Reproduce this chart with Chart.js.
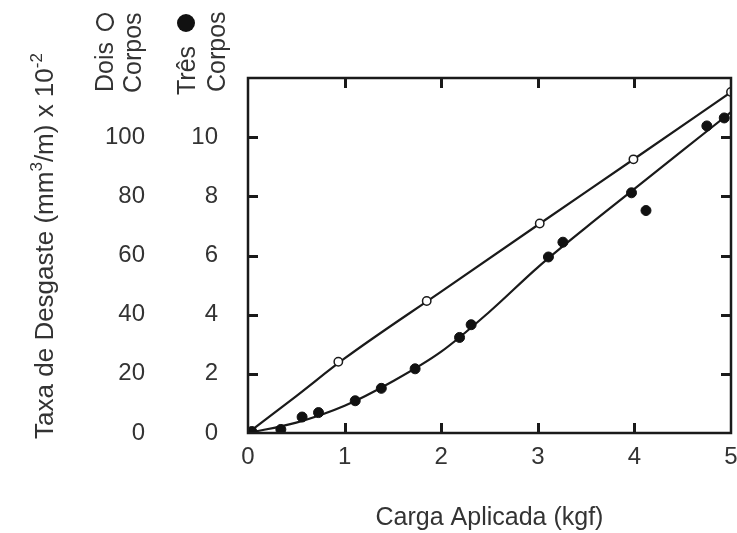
<!DOCTYPE html>
<html><head><meta charset="utf-8">
<script src="https://cdn.jsdelivr.net/npm/chart.js@4.4.1/dist/chart.umd.min.js"></script>
<style>html,body{margin:0;padding:0;background:#fff;}</style>
</head><body>
<canvas id="c" width="737" height="533"></canvas>
<script>
// ---- data ----
const xTickLabels = ['0', '1', '2', '3', '4', '5'];
const doisTickLabels = ['0', '20', '40', '60', '80', '100'];
const tresTickLabels = ['0', '2', '4', '6', '8', '10'];

// Dois Corpos (open circles, left outer axis 0-100)
const doisX = [0.935, 1.85, 3.02, 3.99, 5.0];
const doisY = [24.1, 44.6, 70.8, 92.5, 115.3];
// Três Corpos (filled circles, inner axis 0-10)
const tresX = [0.04, 0.34, 0.56, 0.73, 1.11, 1.38, 1.73, 2.19, 2.31, 3.11, 3.26, 3.97, 4.12, 4.75, 4.93];
const tresY = [0.05, 0.12, 0.54, 0.69, 1.09, 1.51, 2.17, 3.23, 3.66, 5.95, 6.45, 8.12, 7.52, 10.38, 10.65];
// fitted curves
const doisFitX = [0, 0.5, 1, 2, 3, 4, 5];
const doisFitY = [0, 12.5, 25.2, 47.8, 70.3, 92.7, 115.2];
const tresFitX = [0, 0.5, 1, 1.5, 2, 2.5, 3, 3.5, 4, 4.5, 5];
const tresFitY = [0, 0.35, 0.92, 1.75, 2.75, 4.1, 5.6, 6.95, 8.25, 9.55, 10.85];
const xInnerTicks = [1, 2, 3, 4];
const yInnerTicks = [2, 4, 6, 8, 10];

const FONT = 'Liberation Sans, Arial, sans-serif';
const TXT = '#333';
const INK = '#1a1a1a';
const pts = (xs, ys) => xs.map((x, i) => ({x, y: ys[i]}));

function drawTicks(chart) {
  const ctx = chart.ctx;
  const a = chart.chartArea;
  const sx = chart.scales.x, sy = chart.scales.y;
  const L = 10, W = 3;
  ctx.save();
  ctx.fillStyle = INK;
  xInnerTicks.forEach(v => {
    const px = Math.round(sx.getPixelForValue(v));
    ctx.fillRect(px - 1, a.bottom - L, W, L);
    ctx.fillRect(px - 1, a.top, W, L);
  });
  yInnerTicks.forEach(v => {
    const py = Math.round(sy.getPixelForValue(v));
    ctx.fillRect(a.left, py - 1, L, W);
    ctx.fillRect(a.right - L, py - 1, L, W);
  });
  ctx.restore();
}

const framePlugin = {
  id: 'frame',
  afterDatasetsDraw(chart) { drawTicks(chart); },
  afterDraw(chart) {
    const ctx = chart.ctx;
    const a = chart.chartArea;
    ctx.save();
    ctx.strokeStyle = INK;
    ctx.lineWidth = 2.5;
    ctx.strokeRect(a.left, a.top, a.right - a.left, a.bottom - a.top);
    ctx.restore();
    drawTicks(chart);
    ctx.save();

    // y-axis title with superscripts
    ctx.fillStyle = TXT;
    const big = '25px ' + FONT, tbig = '26px ' + FONT, small = '17px ' + FONT;
    const parts = [['Taxa de Desgaste (mm', tbig, 0], ['3', small, -11], ['/m) x 10', tbig, 0], ['-2', small, -11]];
    let total = 0;
    parts.forEach(p => { ctx.font = p[1]; total += ctx.measureText(p[0]).width; });
    ctx.save();
    ctx.translate(53, 246 + total / 2);
    ctx.rotate(-Math.PI / 2);
    ctx.textBaseline = 'alphabetic';
    ctx.textAlign = 'left';
    let cx = 0;
    parts.forEach(p => { ctx.font = p[1]; ctx.fillText(p[0], cx, p[2]); cx += ctx.measureText(p[0]).width; });
    ctx.restore();

    // rotated series labels
    const rot = (txt, x, y) => {
      ctx.save(); ctx.translate(x, y); ctx.rotate(-Math.PI / 2);
      ctx.font = big; ctx.textAlign = 'left'; ctx.textBaseline = 'alphabetic';
      ctx.fillText(txt, 0, 0); ctx.restore();
    };
    rot('Dois', 113, 92);
    rot('Corpos', 141, 93);
    rot('Três', 195, 95);
    rot('Corpos', 225, 92);
    ctx.lineWidth = 2.2;
    ctx.strokeStyle = TXT;
    ctx.beginPath(); ctx.arc(105, 22, 8, 0, Math.PI * 2); ctx.stroke();
    ctx.fillStyle = '#111';
    ctx.beginPath(); ctx.arc(186, 23, 9, 0, Math.PI * 2); ctx.fill();
    ctx.restore();
  }
};

new Chart(document.getElementById('c'), {
  type: 'scatter',
  data: {
    datasets: [
      {label: 'Dois Corpos', data: pts(doisX, doisY), yAxisID: 'y1',
       pointRadius: 4.2, pointBackgroundColor: '#fff', pointBorderColor: INK, pointBorderWidth: 1.5, showLine: false},
      {label: 'Três Corpos', data: pts(tresX, tresY), yAxisID: 'y',
       pointRadius: 5, pointBackgroundColor: '#111', pointBorderColor: '#111', pointBorderWidth: 1, showLine: false},
      {label: 'fit dois', data: pts(doisFitX, doisFitY), yAxisID: 'y1', showLine: true,
       pointRadius: 0, borderColor: INK, borderWidth: 2.2, cubicInterpolationMode: 'monotone'},
      {label: 'fit tres', data: pts(tresFitX, tresFitY), yAxisID: 'y', showLine: true,
       pointRadius: 0, borderColor: INK, borderWidth: 2.2, cubicInterpolationMode: 'monotone'}
    ]
  },
  options: {
    responsive: false, animation: false, devicePixelRatio: 1,
    layout: {padding: {top: 78, right: 6, left: 0, bottom: 0}},
    plugins: {legend: {display: false}, tooltip: {enabled: false}},
    scales: {
      x: {type: 'linear', min: 0, max: 5, position: 'bottom',
        grid: {display: false, drawTicks: false}, border: {display: false},
        ticks: {stepSize: 1, padding: 10, color: TXT, font: {family: FONT, size: 24},
          callback: (v, i) => xTickLabels[i]},
        title: {display: true, text: 'Carga Aplicada (kgf)', color: TXT,
          font: {family: FONT, size: 25}, padding: {top: 0, bottom: 0}},
        afterFit(s) { s.height = 100; s.paddingLeft = 0; s.paddingRight = 0; }
      },
      y: {type: 'linear', position: 'left', weight: 0, min: 0, max: 12,
        grid: {display: false, drawTicks: false}, border: {display: false},
        ticks: {stepSize: 2, padding: 30, color: TXT, font: {family: FONT, size: 24},
          callback: (v, i) => tresTickLabels[i] ?? ''},
        afterFit(s) { s.width = 80; }
      },
      y1: {type: 'linear', position: 'left', weight: 1, min: 0, max: 120,
        grid: {display: false, drawTicks: false}, border: {display: false},
        ticks: {stepSize: 20, padding: 23, color: TXT, font: {family: FONT, size: 24},
          callback: (v, i) => doisTickLabels[i] ?? ''},
        afterFit(s) { s.width = 168; }
      }
    }
  },
  plugins: [framePlugin]
});
</script>
</body></html>
